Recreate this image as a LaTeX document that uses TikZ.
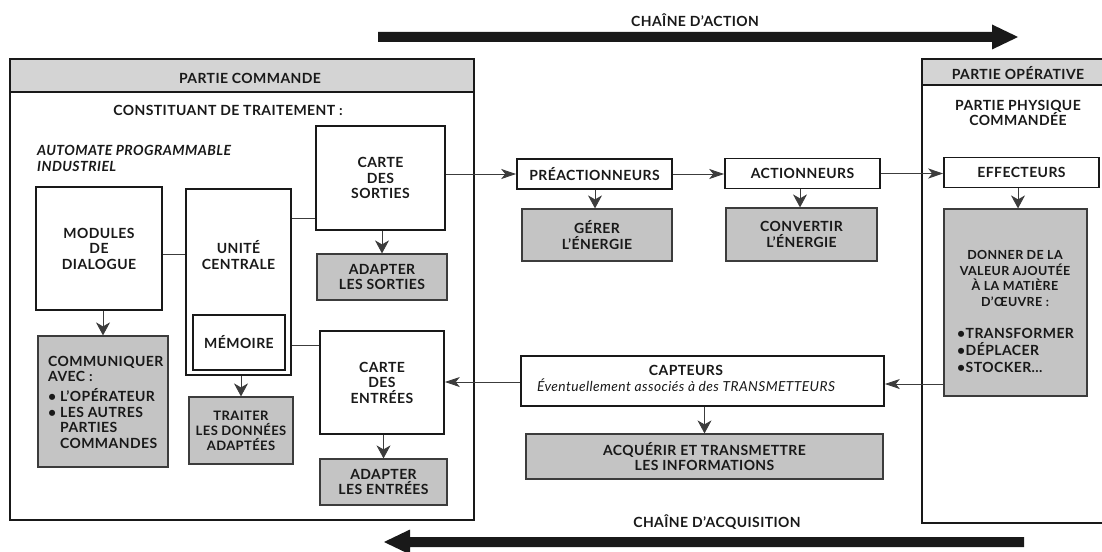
\documentclass[tikz,border=0pt]{standalone}
\usepackage{fontspec}
\setmainfont{Lato}[LetterSpace=3]
\usetikzlibrary{arrows.meta,calc}
\definecolor{boxgray}{RGB}{196,196,196}
\definecolor{hdrgray}{RGB}{212,212,212}
\definecolor{ink}{RGB}{25,25,25}
\begin{document}
\begin{tikzpicture}[x=1pt,y=-1pt,
  every node/.style={font=\bfseries\fontsize{14}{15.5}\selectfont, text=ink, inner sep=0pt},
  wbox/.style={draw=ink, line width=1.6pt, fill=white, align=center},
  gbox/.style={draw=ink!85, line width=1.2pt, fill=boxgray, align=center},
  link/.style={draw=ink!85, line width=0.9pt},
  arr/.style={link, -{Stealth[length=15pt,width=10pt,inset=4pt]}},
  darr/.style={link, -{Stealth[length=13pt,width=14pt,inset=4pt]}},
  frame/.style={draw=ink, line width=1.6pt},
  itl/.style={font=\bfseries\itshape\fontsize{14}{16}\selectfont, align=left},
  small/.style={font=\bfseries\fontsize{13}{15}\selectfont},
  smaller/.style={font=\bfseries\fontsize{12.5}{15.7}\selectfont},
]
\useasboundingbox (0,0) rectangle (1102,551);
\clip (0,0) rectangle (1102,551);

% big chain arrows
\fill[ink] (378,32) -- (992,32) -- (992,24.5) -- (1018,37) -- (992,49.5) -- (992,42) -- (378,42) -- cycle;
\node (chA) at (695,20) {CHAÎNE D'ACTION};
\fill[ink] (1024,537) -- (410,537) -- (410,529.5) -- (384,542) -- (410,554.5) -- (410,547) -- (1024,547) -- cycle;
\node (chQ) at (717,522) {CHAÎNE D'ACQUISITION};

% frames
\draw[frame] (10,59) rectangle (474,520);
\draw[frame, fill=hdrgray] (10,59) rectangle (474,92);
\node (hC) at (250,78) {PARTIE COMMANDE};
\draw[frame] (922,59) rectangle (1112,523);
\draw[frame, fill=hdrgray] (922,59) rectangle (1112,85);
\node (hO) at (1018,73) {PARTIE OPÉRATIVE};
\node[align=center] (pp) at (1018,113) {PARTIE PHYSIQUE\\COMMANDÉE};

\node (ct) at (228,110) {CONSTITUANT DE TRAITEMENT :};
\node[itl, anchor=west] (api) at (37,158) {AUTOMATE PROGRAMMABLE\\INDUSTRIEL};

% partie commande boxes
\node[wbox, minimum width=126pt, minimum height=123pt] (mod) at (99,248.5) {MODULES\\DE\\DIALOGUE};
\node[wbox, minimum width=105pt, minimum height=186pt] (uc) at (238.5,282) {};
\node[align=center] (ucT) at (238.5,255) {UNITÉ\\CENTRALE};
\node[wbox, line width=1.2pt, minimum width=92pt, minimum height=55pt] (mem) at (239,342.5) {MÉMOIRE};
\node[wbox, minimum width=129pt, minimum height=104pt] (cs) at (380.5,178) {CARTE\\DES\\SORTIES};
\node[gbox, minimum width=130pt, minimum height=46pt] (as) at (382,277) {ADAPTER\\LES SORTIES};
\node[wbox, minimum width=124pt, minimum height=103pt] (ce) at (382,382.5) {CARTE\\DES\\ENTRÉES};
\node[gbox, minimum width=127pt, minimum height=46pt] (ae) at (383.5,482) {ADAPTER\\LES ENTRÉES};
\node[gbox, minimum width=130pt, minimum height=131pt] (com) at (103,401.5) {};
\node[align=left, anchor=west] (comT) at (48,402) {COMMUNIQUER\\AVEC :\\[4.5pt]• L'OPÉRATEUR\\• LES AUTRES\\\hphantom{• }PARTIES\\\hphantom{• }COMMANDES};
\node[gbox, small, minimum width=104pt, minimum height=67pt] (tr) at (241,430.5) {TRAITER\\LES DONNÉES\\ADAPTÉES};

% action chain
\node[wbox, minimum width=155pt, minimum height=30pt] (pre) at (594.5,174) {PRÉACTIONNEURS};
\node[gbox, minimum width=150pt, minimum height=52pt] (ger) at (597,235) {GÉRER\\L'ÉNERGIE};
\node[wbox, minimum width=155pt, minimum height=30pt] (act) at (802.5,173.5) {ACTIONNEURS};
\node[gbox, minimum width=151pt, minimum height=53pt] (conv) at (801.5,234.5) {CONVERTIR\\L'ÉNERGIE};
\node[wbox, minimum width=155pt, minimum height=30pt] (eff) at (1021.5,172.5) {EFFECTEURS};
\node[gbox, minimum width=143pt, minimum height=187pt] (don) at (1015.5,302.5) {};
\node[smaller, align=center] (donT) at (1015,278.5) {DONNER DE LA\\VALEUR  AJOUTÉE\\À LA MATIÈRE\\D'ŒUVRE :};
\node[align=left, anchor=west, font=\bfseries\fontsize{14}{17}\selectfont] (donL) at (957,350) {•TRANSFORMER\\•DÉPLACER\\•STOCKER...};

% acquisition chain
\node[wbox, minimum width=363pt, minimum height=50pt] (cap) at (702.5,381) {};
\node[align=center] (capT) at (686,378.5) {CAPTEURS\\{\mdseries\itshape\fontsize{13.8}{16}\selectfont Éventuellement associés à des TRANSMETTEURS}};
\node[gbox, minimum width=357pt, minimum height=45pt] (acq) at (704.5,456.5) {ACQUÉRIR ET TRANSMETTRE\\LES INFORMATIONS};

% internal links
\coordinate (m1) at ([yshift=-5.5pt]mod.east);
\draw[link] (m1) -- (m1 -| uc.west);
\coordinate (u1) at ([yshift=-40pt]cs.west);
\draw[link] (u1 -| uc.east) -- (u1);
\coordinate (u2) at ([yshift=37.5pt]ce.west);
\draw[link] (u2 -| uc.east) -- (u2);

% down arrows
\draw[darr] (com.north |- mod.south) -- (com.north);
\draw[darr] (tr.north |- uc.south) -- (tr.north);
\draw[darr] (as.north |- cs.south) -- (as.north);
\draw[darr] (ae.north |- ce.south) -- (ae.north);
\draw[darr] ([xshift=0.5pt]pre.south) -- ([xshift=0.5pt]pre.south |- ger.north);
\draw[darr] ([xshift=-2.5pt]act.south) -- ([xshift=-2.5pt]act.south |- conv.north);
\draw[darr] ([xshift=-3.5pt]eff.south) -- ([xshift=-3.5pt]eff.south |- don.north);
\draw[darr] (acq.north |- cap.south) -- (acq.north);

% horizontal arrows
\draw[arr] (cs.east |- pre.west) -- (pre.west);
\draw[arr] (pre.east) -- (pre.east -| act.west);
\draw[arr] (act.east) -- (act.east -| eff.west);
\coordinate (d1) at ([yshift=-3pt]cap.east);
\draw[arr] (d1 -| don.west) -- (d1);
\draw[arr] ([yshift=-1pt]cap.west) -- ([yshift=-1pt]cap.west -| ce.east);
\end{tikzpicture}
\end{document}
